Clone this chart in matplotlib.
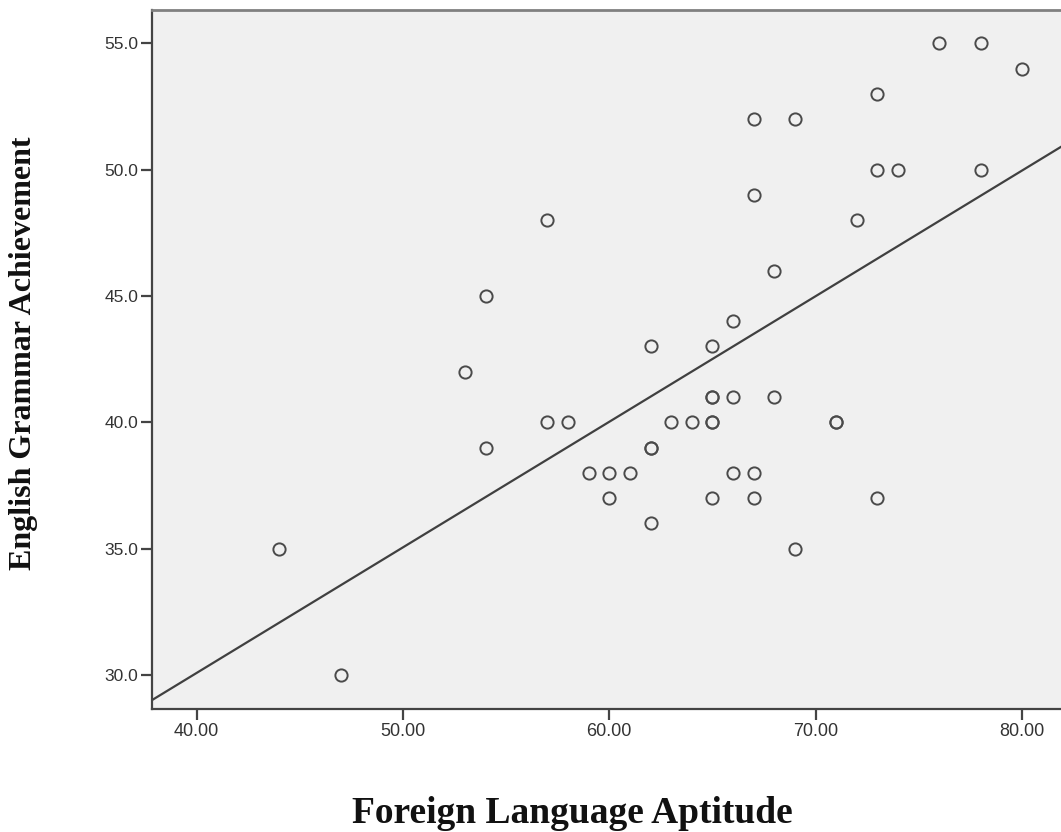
import numpy as np
import matplotlib
matplotlib.use("Agg")
import matplotlib.pyplot as plt

# Data
aptitude = [44, 47, 53, 54, 54, 57, 57, 58, 59, 60, 60, 61, 62, 62, 62, 62,
            63, 64, 65, 65, 65, 65, 65, 65, 66, 66, 66, 67, 67, 67, 67, 68,
            68, 69, 69, 71, 71, 72, 73, 73, 73, 74, 76, 78, 78, 80]
grammar = [35, 30, 42, 45, 39, 48, 40, 40, 38, 38, 37, 38, 43, 39, 39, 36,
           40, 40, 43, 41, 41, 40, 40, 37, 44, 41, 38, 52, 49, 38, 37, 46,
           41, 52, 35, 40, 40, 48, 53, 50, 37, 50, 55, 55, 50, 54]

# Fit line (intercept, slope)
fit_intercept = 10.2
fit_slope = 0.497

xticks = [40, 50, 60, 70, 80]
yticks = [30, 35, 40, 45, 50, 55]

fig = plt.figure(figsize=(10.61, 8.32), dpi=100)
ax = fig.add_axes([0.143, 0.1475, 0.859, 0.8405])
ax.set_facecolor("#f0f0f0")

xlim = (37.82, 82.0)
ylim = (28.64, 56.32)
ax.set_xlim(*xlim)
ax.set_ylim(*ylim)

ax.plot(aptitude, grammar, linestyle="none", marker="o", markersize=8.8,
        markerfacecolor="none", markeredgecolor="#4a4a4a", markeredgewidth=1.4,
        zorder=3)

lx = np.array(xlim)
ax.plot(lx, fit_intercept + fit_slope * lx, color="#404040", linewidth=1.6, zorder=2)

ax.set_xticks(xticks)
ax.set_xticklabels([f"{v:.2f}" for v in xticks])
ax.set_yticks(yticks)
ax.set_yticklabels([f"{v:.1f}" for v in yticks])

for s in ["left", "bottom"]:
    ax.spines[s].set_color("#444444")
    ax.spines[s].set_linewidth(1.6)
ax.spines["top"].set_color("#808080")
ax.spines["top"].set_linewidth(2)
ax.spines["right"].set_visible(False)

ax.tick_params(axis="both", direction="out", length=8, width=1.6, color="#444444",
               labelcolor="#333333")
ax.tick_params(axis="x", labelsize=13, pad=1.8)
ax.tick_params(axis="y", labelsize=12.5, pad=1.5)
for lab in ax.get_xticklabels() + ax.get_yticklabels():
    lab.set_fontfamily("Liberation Sans")

fig.text(0.022, 0.575, "English Grammar Achievement", rotation=90,
         ha="center", va="center", fontsize=23, fontweight="bold",
         family="Liberation Serif", color="#111111")
fig.text(0.5396, 0.011, "Foreign Language Aptitude", ha="center", va="baseline",
         fontsize=27, fontweight="bold", family="Liberation Serif", color="#111111")

fig.savefig("out.png", dpi=100)
